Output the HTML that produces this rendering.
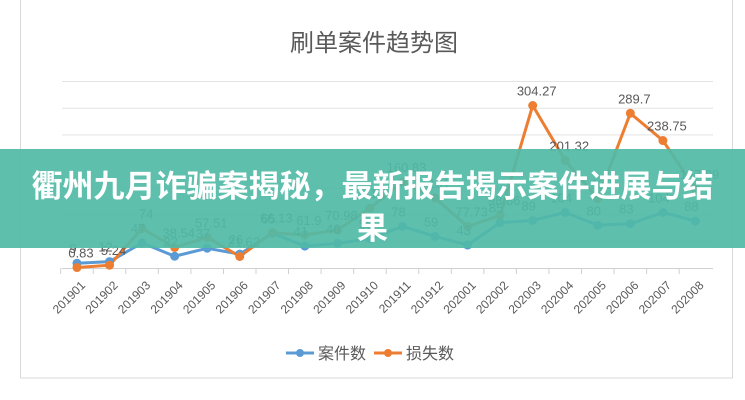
<!DOCTYPE html>
<html><head><meta charset="utf-8"><style>
body{margin:0;width:745px;height:400px;background:#fff;overflow:hidden;position:relative;font-family:"Liberation Sans","Noto Sans CJK SC",sans-serif}
svg{position:absolute;left:0;top:0}
.banner{position:absolute;left:0;top:149px;width:745px;height:99px;background:rgba(80,186,166,0.92);color:#fff;font-weight:bold;font-size:31px;text-align:center;line-height:42px;padding-top:14px;box-sizing:border-box;font-family:"Noto Sans CJK SC",sans-serif;letter-spacing:0px}
</style></head><body>
<svg width="745" height="400" xmlns="http://www.w3.org/2000/svg" font-family="Liberation Sans, Noto Sans CJK SC, sans-serif">
<rect x="20.5" y="-2" width="712" height="380" fill="#fff" stroke="#d9d9d9"/>
<text x="374" y="51" font-size="24" fill="#595959" text-anchor="middle" font-family="Noto Sans CJK SC, sans-serif">刷单案件趋势图</text>
<g stroke="#e3e3e3" stroke-width="1">
<line x1="62" x2="713" y1="81.5" y2="81.5"/><line x1="62" x2="713" y1="108.2" y2="108.2"/>
<line x1="62" x2="713" y1="134.9" y2="134.9"/><line x1="62" x2="713" y1="161.6" y2="161.6"/>
<line x1="62" x2="713" y1="188.3" y2="188.3"/><line x1="62" x2="713" y1="215" y2="215"/>
<line x1="62" x2="713" y1="241.7" y2="241.7"/>
</g>
<line x1="62" x2="713" y1="268.5" y2="268.5" stroke="#d0d0d0"/>
<g id="ticks" stroke="#d0d0d0"></g>
<polyline id="pb" fill="none" stroke="#5b9bd5" stroke-width="3"/>
<polyline id="po" fill="none" stroke="#ed7d31" stroke-width="3"/>
<g id="dots"></g>
<g id="lbl" font-size="13" fill="#595959" text-anchor="middle"></g>
<g id="xl" font-size="12" fill="#595959" text-anchor="end"></g>
<line x1="286" x2="314" y1="353" y2="353" stroke="#5b9bd5" stroke-width="3"/><circle cx="300" cy="353" r="4" fill="#5b9bd5"/>
<text x="318" y="359" font-size="16" fill="#595959" font-family="Noto Sans CJK SC, sans-serif">案件数</text>
<line x1="374" x2="402" y1="353" y2="353" stroke="#ed7d31" stroke-width="3"/><circle cx="388" cy="353" r="4" fill="#ed7d31"/>
<text x="406" y="359" font-size="16" fill="#595959" font-family="Noto Sans CJK SC, sans-serif">损失数</text>
</svg>
<div class="banner">衢州九月诈骗案揭秘，最新报告揭示案件进展与结<br>果</div>
<script>
var b=[9,12,47,22,37,26,65,41,46,55,78,59,43,85,89,104,80,83,104,88];
var o=[0.83,5.24,74,38.54,57.51,21.62,66.13,61.9,70.98,112,160.83,131,77.73,98.86,304.27,201.32,130,289.7,238.75,147.99];
var lab=["201901","201902","201903","201904","201905","201906","201907","201908","201909","201910","201911","201912","202001","202002","202003","202004","202005","202006","202007","202008"];
function X(i){return 77+i*32.55}function Y(v){return 268-v*0.534}
var ns="http://www.w3.org/2000/svg";
function el(t,a,p,tx){var e=document.createElementNS(ns,t);for(var k in a)e.setAttribute(k,a[k]);if(tx)e.textContent=tx;document.getElementById(p).appendChild(e);}
document.getElementById('pb').setAttribute('points',b.map((v,i)=>X(i)+','+Y(v)).join(' '));
document.getElementById('po').setAttribute('points',o.map((v,i)=>X(i)+','+Y(v)).join(' '));
for(var i=0;i<20;i++){
el('line',{x1:X(i)-16.3,x2:X(i)-16.3,y1:268,y2:274},'ticks');
el('circle',{cx:X(i),cy:Y(b[i]),r:4.5,fill:'#5b9bd5'},'dots');
el('circle',{cx:X(i),cy:Y(o[i]),r:4.5,fill:'#ed7d31'},'dots');
el('text',{x:X(i)-4,y:Y(b[i])-10},'lbl',String(b[i]));
el('text',{x:X(i)+4,y:Y(o[i])-10},'lbl',String(o[i]));
el('text',{x:X(i)+9,y:286,transform:'rotate(-45 '+(X(i)+9)+' 286)'},'xl',lab[i]);
}
</script>
</body></html>
